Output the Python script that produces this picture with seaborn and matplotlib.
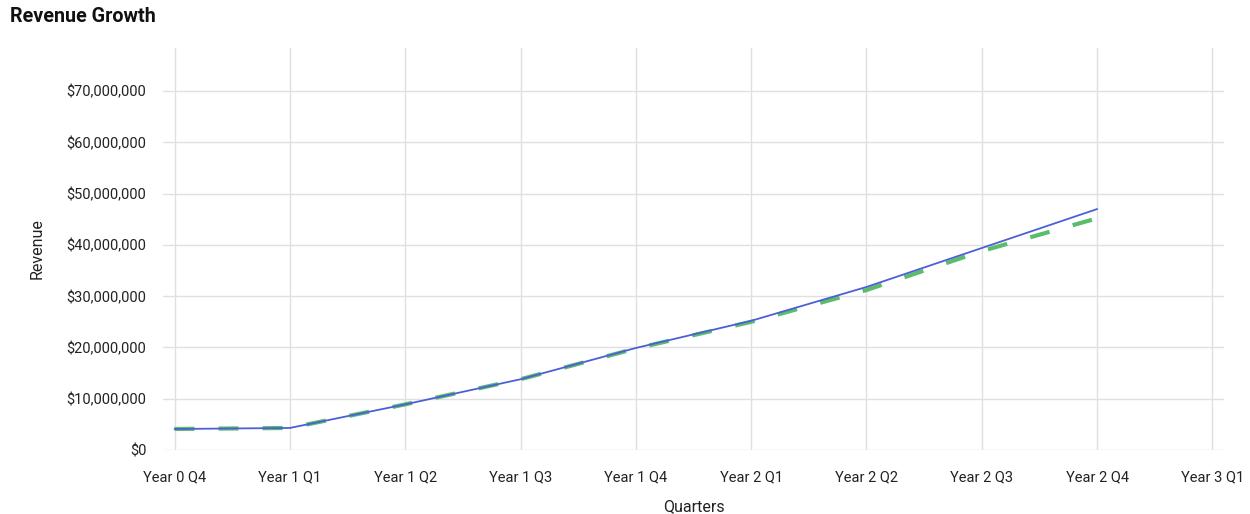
import matplotlib
matplotlib.use("Agg")
import matplotlib.pyplot as plt
import matplotlib.ticker as mticker
import seaborn as sns
import pandas as pd

quarters = ["Year 0 Q4", "Year 1 Q1", "Year 1 Q2", "Year 1 Q3", "Year 1 Q4",
            "Year 2 Q1", "Year 2 Q2", "Year 2 Q3", "Year 2 Q4", "Year 3 Q1"]
revenue = [4.1e6, 4.3e6, 8.9e6, 13.8e6, 19.9e6, 25.2e6, 31.8e6, 39.4e6, 47.0e6]
trend = [4.1e6, 4.3e6, 8.9e6, 13.8e6, 19.8e6, 25.0e6, 31.2e6, 38.8e6, 45.2e6]

sns.set_theme(style="white")
plt.rcParams["font.family"] = ["Roboto", "DejaVu Sans"]

df = pd.DataFrame({
    "q": list(range(len(revenue))) * 2,
    "value": revenue + trend,
    "series": ["Revenue"] * len(revenue) + ["Trend"] * len(trend),
})

fig = plt.figure(figsize=(12.5, 5.14), dpi=100)
ax = fig.add_axes([0.1304, 0.1245, 0.8488, 0.782])

trend_lw = 3.0
sns.lineplot(data=df[df.series == "Trend"], x="q", y="value", ax=ax,
             color="#5bbd6c", linewidth=trend_lw, legend=False)
# dash ~20px on, ~24px off (values scale with linewidth)
ax.lines[-1].set_dashes([14.4 / trend_lw, 17.3 / trend_lw])
sns.lineplot(data=df[df.series == "Revenue"], x="q", y="value", ax=ax,
             color="#4d5fd6", linewidth=1.3, legend=False)

ax.set_xlim(-0.1, 9.1)
ax.set_ylim(0, 78.4e6)
ax.set_xticks(range(len(quarters)))
ax.set_xticklabels(quarters)
ax.set_yticks([i * 1e7 for i in range(8)])
ax.yaxis.set_major_formatter(mticker.FuncFormatter(lambda v, p: f"${v:,.0f}"))
ax.tick_params(axis="both", labelsize=10.5, colors="#222222", length=0)
ax.tick_params(axis="y", pad=12)
ax.tick_params(axis="x", pad=15)

ax.grid(True, color="#e0e0e0", linewidth=1)
for s in ax.spines.values():
    s.set_visible(False)

ax.set_xlabel("Quarters", fontsize=11.5, color="#222222", labelpad=10)
ax.set_ylabel("Revenue", fontsize=11.5, color="#222222", labelpad=16)
fig.text(0.008, 0.967, "Revenue Growth", fontsize=14.2, fontweight="bold",
         color="#111111", va="center", ha="left")

fig.savefig("out.png", dpi=100)
